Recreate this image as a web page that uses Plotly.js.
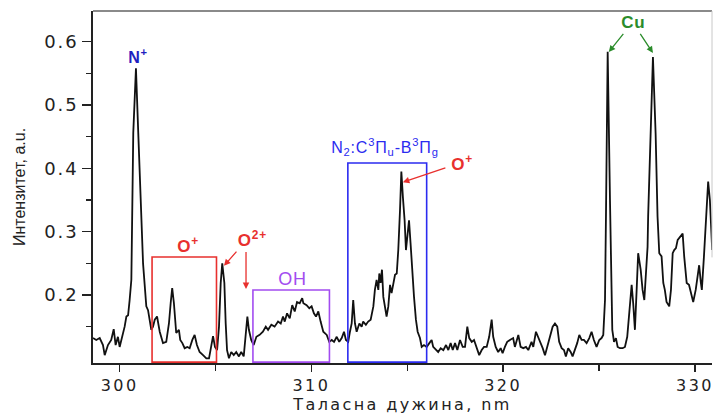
<!DOCTYPE html>
<html>
<head>
<meta charset="utf-8">
<script src="https://cdn.plot.ly/plotly-3.0.1.min.js"></script>
<style>
html,body{margin:0;padding:0;background:#fff;}
#chart{width:713px;height:414px;}
#chart .xtick text{letter-spacing:2.4px;}
#chart .ytick text{letter-spacing:1.8px;}
#chart text.xtitle{letter-spacing:2.4px;}
#chart text.annotation-text{letter-spacing:0.8px;}
</style>
</head>
<body>
<div id="chart"></div>
<script>
// Wavelength (nm) and intensity (a.u.)
const wavelength = [
298.61,298.78,298.96,299.13,299.22,299.39,299.56,299.69,299.79,299.91,300.00,300.14,300.26,300.35,300.44,300.52,300.61,300.71,300.85,300.97,
301.15,301.22,301.39,301.48,301.65,301.74,301.83,301.95,302.09,302.26,302.43,302.57,302.66,302.74,302.83,302.95,303.09,303.16,303.27,303.39,
303.53,303.65,303.79,303.91,304.03,304.17,304.35,304.52,304.66,304.78,304.87,304.97,305.08,305.18,305.27,305.35,305.46,305.53,305.60,305.70,
305.82,305.95,306.08,306.22,306.34,306.47,306.57,306.66,306.74,306.86,306.99,307.13,307.30,307.47,307.62,307.74,307.91,308.08,308.26,308.40,
308.52,308.61,308.73,308.87,309.00,309.13,309.25,309.39,309.52,309.58,309.75,309.89,310.01,310.13,310.24,310.36,310.48,310.62,310.80,310.93,
311.06,311.18,311.32,311.45,311.58,311.70,311.80,311.92,312.01,312.10,312.18,312.27,312.36,312.50,312.62,312.70,312.84,312.96,313.09,313.23,
313.31,313.40,313.49,313.54,313.61,313.68,313.75,313.84,313.92,314.01,314.10,314.18,314.27,314.36,314.45,314.53,314.62,314.69,314.77,314.86,
314.93,315.00,315.09,315.17,315.26,315.35,315.45,315.54,315.66,315.75,315.87,316.01,316.15,316.27,316.35,316.49,316.61,316.74,316.88,317.02,
317.14,317.26,317.37,317.49,317.61,317.75,317.89,318.01,318.13,318.23,318.36,318.48,318.62,318.75,318.88,319.00,319.14,319.27,319.40,319.48,
319.61,319.74,319.87,319.97,320.09,320.21,320.35,320.52,320.61,320.79,320.91,321.05,321.19,321.31,321.48,321.57,321.71,321.83,321.95,322.06,
322.18,322.30,322.44,322.58,322.70,322.82,322.92,323.05,323.17,323.27,323.39,323.52,323.62,323.74,323.86,323.97,324.09,324.21,324.35,324.49,
324.61,324.73,324.87,325.01,325.13,325.22,325.31,325.36,325.45,325.57,325.69,325.78,325.88,325.97,326.09,326.23,326.35,326.47,326.57,326.70,
326.78,326.87,326.96,327.04,327.17,327.27,327.36,327.44,327.53,327.56,327.69,327.81,327.95,328.05,328.14,328.26,328.35,328.43,328.52,328.66,
328.75,328.84,328.92,329.01,329.10,329.18,329.27,329.36,329.44,329.57,329.69,329.79,329.91,330.04,330.14,330.22,330.31,330.36,330.47,330.57,
330.69,330.78,330.90
];
const intensity = [
0.132,0.129,0.132,0.121,0.105,0.121,0.129,0.146,0.121,0.134,0.118,0.134,0.150,0.166,0.168,0.192,0.224,0.456,0.558,0.456,
0.298,0.250,0.182,0.176,0.145,0.150,0.161,0.166,0.142,0.124,0.126,0.155,0.187,0.211,0.187,0.140,0.145,0.129,0.124,0.116,
0.118,0.116,0.129,0.137,0.121,0.110,0.105,0.100,0.100,0.121,0.135,0.118,0.113,0.150,0.219,0.250,0.219,0.155,0.113,0.100,
0.110,0.105,0.110,0.103,0.110,0.103,0.140,0.166,0.145,0.129,0.121,0.134,0.137,0.142,0.150,0.145,0.153,0.150,0.158,0.155,
0.166,0.158,0.171,0.163,0.184,0.174,0.189,0.187,0.195,0.187,0.184,0.179,0.182,0.171,0.166,0.174,0.158,0.142,0.137,0.126,
0.129,0.126,0.134,0.126,0.132,0.142,0.129,0.126,0.142,0.155,0.192,0.155,0.142,0.155,0.150,0.158,0.153,0.158,0.161,0.182,
0.208,0.224,0.208,0.234,0.219,0.240,0.197,0.179,0.166,0.182,0.216,0.203,0.221,0.232,0.234,0.271,0.334,0.395,0.355,0.318,
0.271,0.297,0.318,0.282,0.234,0.197,0.161,0.142,0.132,0.118,0.121,0.118,0.124,0.129,0.118,0.113,0.110,0.116,0.113,0.121,
0.113,0.124,0.113,0.124,0.113,0.129,0.118,0.118,0.150,0.132,0.126,0.129,0.118,0.105,0.113,0.118,0.118,0.134,0.161,0.134,
0.118,0.110,0.116,0.108,0.118,0.126,0.129,0.132,0.118,0.137,0.118,0.116,0.118,0.113,0.126,0.118,0.142,0.134,0.126,0.116,
0.105,0.118,0.134,0.150,0.155,0.150,0.126,0.116,0.113,0.103,0.116,0.110,0.103,0.113,0.124,0.137,0.129,0.129,0.124,0.132,
0.142,0.129,0.118,0.129,0.132,0.137,0.192,0.324,0.584,0.350,0.145,0.126,0.132,0.118,0.116,0.116,0.118,0.134,0.171,0.216,
0.187,0.145,0.208,0.266,0.240,0.208,0.192,0.229,0.276,0.324,0.455,0.576,0.455,0.324,0.266,0.261,0.219,0.208,0.189,0.182,
0.208,0.266,0.271,0.274,0.287,0.290,0.295,0.297,0.261,0.219,0.216,0.203,0.189,0.208,0.229,0.247,0.219,0.208,0.261,0.324,
0.379,0.350,0.271
];
const xTickVals = [300, 310, 320, 330];
const xMinorVals = [305, 315, 325];
const yTickVals = [0.2, 0.3, 0.4, 0.5, 0.6];
const yMinorVals = [0.15, 0.25, 0.35, 0.45, 0.55];

const RED = '#e8302e', BLUE = '#2b2bf0', PURPLE = '#a24cf0', GREEN = '#2b8c2b', NAVY = '#1f1fbf';
const lblFont = (c, s, bold) => ({family: 'Liberation Sans, Arial, sans-serif', size: s, color: c, weight: bold ? 'bold' : 'normal'});

const trace = {
  x: wavelength, y: intensity, type: 'scatter', mode: 'lines',
  line: {color: '#111', width: 1.8}, hoverinfo: 'skip', showlegend: false
};

const box = (x0, x1, y0, y1, c) => ({type: 'rect', xref: 'x', yref: 'y', x0, x1, y0, y1,
  line: {color: c, width: 1.6}, fillcolor: 'rgba(0,0,0,0)'});

const arrow = (x, y, ax, ay, c) => ({x, y, xref: 'x', yref: 'y', text: ' ', showarrow: true, ax, ay,
  arrowcolor: c, arrowwidth: 1.3, arrowhead: 2, arrowsize: 1, font: {size: 1}});

const layout = {
  width: 713, height: 414,
  margin: {l: 93, r: 1, t: 11, b: 51},
  paper_bgcolor: '#fff', plot_bgcolor: '#fff',
  showlegend: false,
  xaxis: {
    range: [298.61, 330.89], showgrid: false, zeroline: false,
    showline: true, linecolor: '#222', linewidth: 2,
    tickmode: 'array', tickvals: xTickVals, ticks: 'outside', ticklen: 7, tickwidth: 1.5, tickcolor: '#222',
    ticklabeloverflow: 'allow',
    minor: {tickmode: 'array', tickvals: xMinorVals, ticks: 'outside', ticklen: 6, tickwidth: 1.5, tickcolor: '#222', showgrid: false},
    tickfont: {family: 'DejaVu Sans, sans-serif', size: 16, color: '#222'},
    title: {text: 'Таласна дужина, nm', font: {family: 'DejaVu Sans, sans-serif', size: 16, color: '#222'}, standoff: 9}
  },
  yaxis: {
    range: [0.0926, 0.6485], showgrid: false, zeroline: false,
    showline: true, linecolor: '#222', linewidth: 2,
    tickmode: 'array', tickvals: yTickVals, tickformat: '.1f', ticks: 'outside', ticklen: 9, tickwidth: 1.5, tickcolor: '#222',
    minor: {tickmode: 'array', tickvals: yMinorVals, ticks: 'outside', ticklen: 5, tickwidth: 1.5, tickcolor: '#222', showgrid: false},
    tickfont: {family: 'DejaVu Sans, sans-serif', size: 18, color: '#222'},
    title: {text: 'Интензитет, a.u.', font: {family: 'Liberation Sans, Arial, sans-serif', size: 16, color: '#222'}, standoff: 20}
  },
  shapes: [
    {type: 'line', xref: 'paper', yref: 'paper', x0: 0, x1: 1, y0: 1, y1: 1, line: {color: '#8a8a8a', width: 2}},
    {type: 'line', xref: 'paper', yref: 'paper', x0: 1, x1: 1, y0: 0.3, y1: 1, line: {color: '#c8c8c8', width: 1}},
    box(301.69, 305.05, 0.094, 0.260, RED),
    box(306.95, 310.94, 0.094, 0.208, PURPLE),
    box(311.90, 316.01, 0.094, 0.4085, BLUE)
  ],
  annotations: [
    {x: 300.96, y: 0.577, xref: 'x', yref: 'y', text: 'N<sup>+</sup>', showarrow: false, font: lblFont(NAVY, 16, true)},
    {x: 303.56, y: 0.279, xref: 'x', yref: 'y', text: 'O<sup>+</sup>', showarrow: false, font: lblFont(RED, 17, true)},
    {x: 306.95, y: 0.288, xref: 'x', yref: 'y', text: 'O<sup>2+</sup>', showarrow: false, font: lblFont(RED, 17, true)},
    arrow(305.44, 0.246, 14, -16, RED),
    arrow(306.59, 0.2095, 0, -39, RED),
    {x: 308.99, y: 0.225, xref: 'x', yref: 'y', text: 'OH', showarrow: false, font: lblFont(PURPLE, 18, false)},
    {x: 313.83, y: 0.434, xref: 'x', yref: 'y', text: 'N<sub>2</sub>:C<sup>3</sup>Π<sub>u</sub>-B<sup>3</sup>Π<sub>g</sub>', showarrow: false, font: lblFont(BLUE, 16, false)},
    {x: 317.85, y: 0.408, xref: 'x', yref: 'y', text: 'O<sup>+</sup>', showarrow: false, font: lblFont(RED, 17, true)},
    arrow(314.77, 0.378, 44, -15, RED),
    {x: 326.77, y: 0.631, xref: 'x', yref: 'y', text: 'Cu', showarrow: false, font: lblFont(GREEN, 17, true)},
    arrow(325.51, 0.5837, 16, -20, GREEN),
    arrow(327.81, 0.5822, -14, -21, GREEN)
  ]
};

Plotly.newPlot('chart', [trace], layout, {displayModeBar: false, staticPlot: true});
</script>
</body>
</html>
